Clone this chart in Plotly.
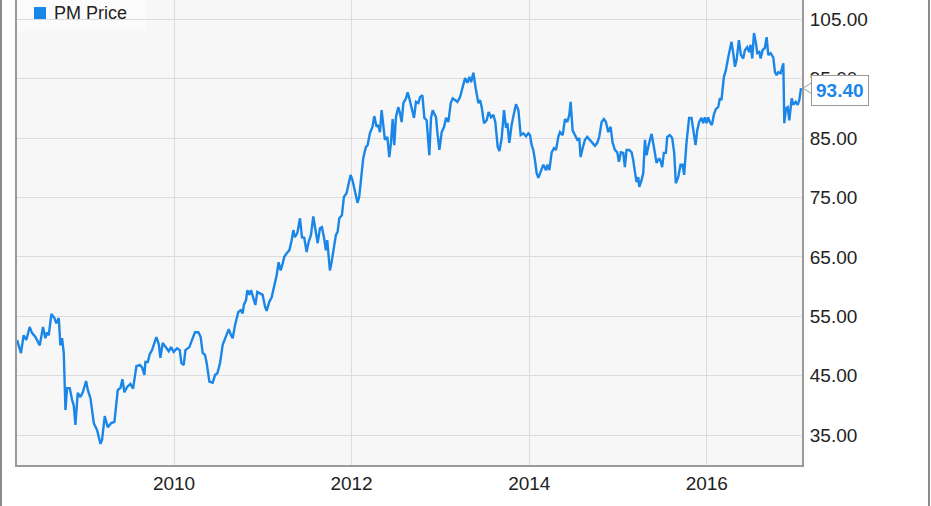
import pandas as pd
import plotly.graph_objects as go

# Decimal-year time stamps and PM closing prices
years = [
    2008.233, 2008.277, 2008.307, 2008.337, 2008.375, 2008.401, 2008.439, 2008.488, 2008.525, 2008.551,
    2008.570, 2008.589, 2008.619, 2008.653, 2008.675, 2008.702, 2008.720, 2008.739, 2008.758, 2008.777,
    2008.795, 2008.825, 2008.852, 2008.870, 2008.889, 2008.915, 2008.945, 2008.972, 2009.009, 2009.028,
    2009.058, 2009.096, 2009.133, 2009.171, 2009.189, 2009.219, 2009.253, 2009.291, 2009.328, 2009.366,
    2009.396, 2009.418, 2009.441, 2009.471, 2009.508, 2009.538, 2009.576, 2009.614, 2009.640, 2009.666,
    2009.677, 2009.704, 2009.726, 2009.752, 2009.779, 2009.801, 2009.828, 2009.846, 2009.872, 2009.902,
    2009.940, 2009.966, 2009.996, 2010.034, 2010.064, 2010.083, 2010.109, 2010.128,
    2010.173, 2010.210, 2010.236, 2010.274, 2010.300, 2010.323, 2010.349, 2010.368, 2010.398, 2010.435,
    2010.462, 2010.488, 2010.518, 2010.548, 2010.586, 2010.616, 2010.642, 2010.661, 2010.687, 2010.724,
    2010.751, 2010.773, 2010.788, 2010.811, 2010.826, 2010.848, 2010.867, 2010.893, 2010.916, 2010.938,
    2010.968, 2010.998, 2011.025, 2011.043, 2011.073, 2011.100, 2011.126, 2011.156, 2011.178, 2011.201,
    2011.224, 2011.242, 2011.269, 2011.299, 2011.325, 2011.344, 2011.362, 2011.389, 2011.419, 2011.441,
    2011.467, 2011.494, 2011.516, 2011.543, 2011.569, 2011.591, 2011.618, 2011.644, 2011.666, 2011.689,
    2011.711, 2011.726, 2011.756, 2011.775, 2011.801, 2011.824, 2011.843, 2011.862,
    2011.891, 2011.914, 2011.944, 2011.962, 2011.989, 2012.011, 2012.037, 2012.067, 2012.086, 2012.113,
    2012.131, 2012.161, 2012.180, 2012.206, 2012.236, 2012.255, 2012.281, 2012.300, 2012.319, 2012.338,
    2012.356, 2012.375, 2012.402, 2012.424, 2012.443, 2012.462, 2012.480, 2012.499, 2012.525, 2012.544,
    2012.563, 2012.582, 2012.612, 2012.630, 2012.649, 2012.675, 2012.702, 2012.724, 2012.751, 2012.769,
    2012.796, 2012.818, 2012.844, 2012.874, 2012.893, 2012.912, 2012.949, 2012.964, 2012.987, 2013.013,
    2013.040, 2013.062, 2013.088, 2013.115, 2013.137, 2013.163, 2013.190, 2013.220, 2013.250, 2013.276,
    2013.302, 2013.325, 2013.344, 2013.370, 2013.396, 2013.426, 2013.445, 2013.464, 2013.490, 2013.520,
    2013.542, 2013.569, 2013.595, 2013.617, 2013.644,
    2013.663, 2013.689, 2013.715, 2013.738, 2013.753, 2013.775, 2013.801, 2013.828, 2013.850, 2013.877,
    2013.903, 2013.933, 2013.963, 2013.989, 2014.008, 2014.027, 2014.045, 2014.064, 2014.083, 2014.102,
    2014.128, 2014.158, 2014.188, 2014.203, 2014.226, 2014.252, 2014.278, 2014.301, 2014.327, 2014.346,
    2014.376, 2014.402, 2014.428, 2014.451, 2014.466, 2014.488, 2014.515, 2014.541, 2014.563, 2014.578,
    2014.601, 2014.627, 2014.653, 2014.683, 2014.713, 2014.740, 2014.766, 2014.788, 2014.815, 2014.841,
    2014.863, 2014.890, 2014.916, 2014.939, 2014.965, 2014.991, 2015.010, 2015.032, 2015.059, 2015.077,
    2015.096, 2015.126, 2015.153, 2015.171, 2015.190, 2015.209, 2015.228, 2015.239, 2015.265, 2015.284,
    2015.303, 2015.321, 2015.351, 2015.378, 2015.404, 2015.434, 2015.464,
    2015.482, 2015.497, 2015.516, 2015.539, 2015.554, 2015.584, 2015.610, 2015.633, 2015.651, 2015.678,
    2015.704, 2015.726, 2015.745, 2015.771, 2015.801, 2015.828, 2015.846, 2015.873, 2015.892, 2015.914,
    2015.940, 2015.959, 2015.978, 2015.997, 2016.015, 2016.034, 2016.057, 2016.079, 2016.102, 2016.128,
    2016.147, 2016.165, 2016.192, 2016.214, 2016.241, 2016.259, 2016.278, 2016.297, 2016.316, 2016.334,
    2016.361, 2016.383, 2016.409, 2016.428, 2016.454, 2016.477, 2016.492, 2016.511, 2016.530, 2016.552,
    2016.567, 2016.590, 2016.605, 2016.627, 2016.653, 2016.672, 2016.691, 2016.717, 2016.747, 2016.766,
    2016.785, 2016.804, 2016.830, 2016.860, 2016.871, 2016.890, 2016.909, 2016.927, 2016.954, 2016.972,
    2016.999, 2017.021, 2017.040, 2017.059,
]

prices = [
    51.0, 48.8, 51.8, 51.0, 53.2, 52.2, 51.5, 50.1, 53.2, 51.3,
    52.3, 51.8, 55.4, 54.7, 53.8, 54.7, 50.1, 51.3, 48.8, 39.2,
    42.9, 42.9, 40.9, 40.0, 36.7, 42.1, 41.4, 42.2, 44.1, 42.6,
    41.2, 37.0, 35.8, 33.5, 34.2, 38.2, 36.3, 37.0, 37.2, 42.6,
    42.9, 44.4, 42.2, 43.1, 43.6, 42.8, 46.6, 46.8, 46.4, 45.1,
    47.3, 47.3, 48.6, 49.3, 50.5, 51.5, 50.3, 48.0, 50.5, 49.8,
    49.1, 49.8, 49.0, 49.6, 49.3, 47.1, 46.8, 49.3,
    49.8, 51.3, 52.3, 52.3, 51.5, 48.8, 48.5, 47.1, 44.0, 43.8,
    45.1, 45.4, 47.1, 50.2, 51.5, 52.8, 51.8, 51.3, 53.5, 55.7,
    56.0, 55.5, 57.0, 57.7, 59.4, 58.6, 59.4, 58.2, 56.9, 59.1,
    58.9, 58.6, 56.6, 55.9, 57.4, 58.2, 59.9, 61.9, 64.1, 62.7,
    63.9, 65.0, 65.6, 66.1, 67.8, 69.5, 68.3, 69.0, 71.5, 68.3,
    68.2, 65.8, 67.5, 68.7, 71.8, 70.0, 67.3, 69.8, 70.0, 68.3,
    66.1, 67.8, 62.7, 64.1, 66.6, 68.7, 69.2, 71.5,
    72.0, 75.1, 75.7, 76.8, 78.8, 77.9, 75.9, 74.1, 75.1, 79.6,
    81.6, 83.5, 83.8, 85.8, 86.9, 88.7, 86.9, 87.2, 86.0, 89.7,
    87.2, 84.7, 85.2, 81.8, 84.2, 88.2, 83.8, 88.5, 90.2, 89.2,
    87.7, 90.9, 91.7, 92.7, 91.7, 90.2, 88.4, 91.1, 90.9, 91.9,
    92.2, 88.4, 88.0, 82.1, 88.4, 89.7, 88.5, 86.0, 83.0, 86.0,
    86.9, 88.4, 87.7, 90.9, 91.7, 91.4, 91.1, 91.9, 93.9, 95.1,
    94.3, 95.3, 94.4, 96.0, 93.4, 90.9, 91.4, 90.2, 87.5, 88.0,
    89.4, 88.5, 88.9, 87.7, 83.5,
    82.8, 85.0, 89.7, 86.7, 87.5, 84.2, 87.2, 89.2, 90.7, 89.7,
    85.5, 85.8, 85.3, 85.8, 85.5, 83.8, 83.0, 81.3, 79.1, 78.3,
    79.3, 80.5, 79.6, 80.5, 79.6, 82.6, 83.3, 83.0, 85.2, 86.0,
    85.5, 88.2, 87.7, 88.9, 91.1, 86.3, 85.5, 84.7, 85.0, 81.8,
    83.3, 84.7, 85.2, 84.7, 84.2, 83.7, 84.2, 85.2, 87.7, 88.2,
    87.7, 86.0, 86.9, 84.2, 83.0, 82.6, 81.0, 82.6, 82.5, 80.1,
    83.0, 83.0, 82.6, 81.3, 79.3, 77.6, 78.4, 76.8, 77.9, 79.1,
    84.7, 82.1, 84.2, 85.7, 83.5, 80.8, 81.6,
    81.0, 80.1, 82.5, 82.5, 85.2, 85.5, 85.0, 82.5, 77.4, 78.4,
    80.5, 80.5, 78.8, 84.2, 88.4, 88.4, 86.3, 83.8, 86.3, 87.7,
    88.4, 87.5, 88.5, 87.5, 88.5, 87.7, 87.2, 88.9, 89.9, 90.2,
    91.7, 91.4, 95.3, 96.4, 98.6, 100.2, 101.2, 99.3, 97.0, 98.1,
    101.5, 99.0, 98.4, 99.8, 100.3, 99.5, 100.7, 98.4, 102.7, 101.0,
    99.3, 99.5, 98.4, 99.8, 100.2, 102.0, 99.0, 99.3, 98.6, 96.1,
    95.6, 96.1, 95.9, 97.6, 87.5, 90.0, 90.2, 88.0, 91.7, 90.6,
    91.1, 90.6, 91.4, 93.4,
]

y_ticks = [35, 45, 55, 65, 75, 85, 95, 105]
x_range_years = [2008.2325, 2017.070]
y_range = [29.95, 108.25]
series_name = "PM Price"
last_label = "93.40"

LINE = "#1a86e8"


def dec_to_date(y):
    yr = int(y)
    start = pd.Timestamp(yr, 1, 1)
    end = pd.Timestamp(yr + 1, 1, 1)
    return start + (end - start) * (y - yr)


dates = [dec_to_date(v) for v in years]
x_range = [dec_to_date(v) for v in x_range_years]

fig = go.Figure()
fig.add_trace(go.Scatter(
    x=dates, y=prices, mode="lines", name=series_name,
    line=dict(color=LINE, width=2.4), showlegend=False,
))

FONT = "Liberation Sans, Arial, sans-serif"

fig.update_layout(
    width=931, height=506,
    margin=dict(l=17, r=129, t=0, b=41),
    paper_bgcolor="white",
    plot_bgcolor="#f7f7f7",
    font=dict(family=FONT, size=19, color="#222222"),
    xaxis=dict(
        type="date", range=x_range,
        tick0="2010-01-01", dtick="M24", tickformat="%Y",
        showgrid=True, gridcolor="#dcdcdc", gridwidth=1,
        showline=True, linecolor="#9a9a9a", linewidth=2,
        ticks="", zeroline=False,
        tickfont=dict(size=19, color="#222222"),
        ticklabelstandoff=0,
    ),
    yaxis=dict(
        side="right", range=y_range,
        tickvals=y_ticks, tickformat=".2f",
        showgrid=True, gridcolor="#dcdcdc", gridwidth=1,
        showline=True, linecolor="#9a9a9a", linewidth=2, mirror=True,
        ticks="", zeroline=False,
        tickfont=dict(size=19, color="#222222"),
        ticklabelstandoff=2,
    ),
)

# plot width/height in px for paper-coordinate decorations
PW, PH = 931 - 17 - 129, 506 - 41

# outer frame lines (left and right edges of the figure)
for px in (1, 929):
    fig.add_shape(type="line", xref="paper", yref="paper",
                  x0=(px - 17) / PW, x1=(px - 17) / PW,
                  y0=-41 / PH - 0.01, y1=1.01,
                  line=dict(color="#8c8c8c", width=2), layer="above")

# legend box
fig.add_shape(type="rect", xref="paper", yref="paper",
              x0=0, x1=(146 - 17) / PW, y0=1 - 31 / PH, y1=1,
              fillcolor="rgba(255,255,255,0.45)", line=dict(width=0), layer="below")
fig.add_shape(type="rect", xref="paper", yref="paper",
              x0=(34 - 17) / PW, x1=(46 - 17) / PW, y0=1 - 19 / PH, y1=1 - 7 / PH,
              fillcolor=LINE, line=dict(width=0))
fig.add_annotation(xref="paper", yref="paper", x=(52 - 17) / PW, y=1 - 13 / PH,
                   text=series_name, showarrow=False, xanchor="left", yanchor="middle",
                   font=dict(family=FONT, size=18, color="#222222"))

# last-value label with pointer
last_y = prices[-1]
unit = (y_range[1] - y_range[0]) / PH  # data units per pixel
bx = (811 - 17) / PW
fig.add_annotation(xref="paper", yref="y", x=bx, y=last_y - 2 * unit,
                   text="<b>" + last_label + "</b>", showarrow=False,
                   xanchor="left", yanchor="middle",
                   font=dict(family=FONT, size=19, color=LINE),
                   bgcolor="white", bordercolor="#9a9a9a", borderwidth=1, borderpad=4)
ptr = (f"M {bx + 1.5 / PW} {last_y + 6 * unit} L {(803 - 17) / PW} {last_y} "
       f"L {bx + 1.5 / PW} {last_y - 6 * unit} Z")
fig.add_shape(type="path", xref="paper", yref="y", path=ptr,
              fillcolor="white", line=dict(color="#9a9a9a", width=1), layer="above")
fig.add_shape(type="line", xref="paper", yref="y",
              x0=bx + 1.5 / PW, x1=bx + 1.5 / PW,
              y0=last_y - 5 * unit, y1=last_y + 5 * unit,
              line=dict(color="white", width=2), layer="above")

fig.write_html("out.html", config={"displayModeBar": False},
               post_script="document.body.style.margin='0px';")
